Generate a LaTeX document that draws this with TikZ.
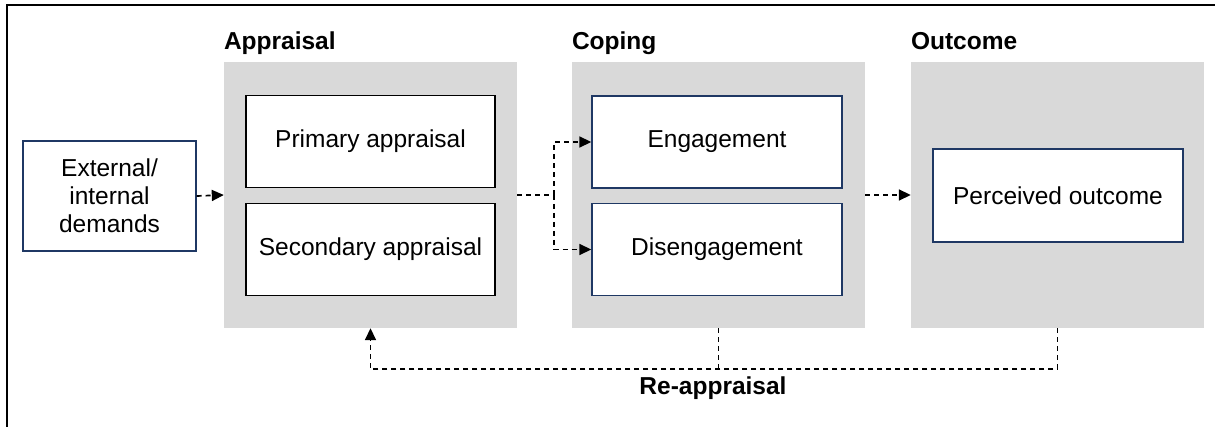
\documentclass[tikz,border=0pt]{standalone}
\usepackage{fontspec}
\setmainfont{Liberation Sans}
\usepackage{tikz}
\usetikzlibrary{arrows.meta,positioning}
\definecolor{panelgray}{HTML}{D9D9D9}
\definecolor{navy}{HTML}{1F3864}

\begin{document}
\begin{tikzpicture}[x=1pt, y=-1pt]
    \tikzstyle{panel} = [rectangle, fill=panelgray, minimum width=293pt, minimum height=266pt, inner sep=0pt]
    \tikzstyle{stage} = [rectangle, draw=black, fill=white, line width=1.4pt, minimum width=249pt, minimum height=92pt, inner sep=0pt, font=\fontsize{24.5}{28}\selectfont]
    \tikzstyle{stageblue} = [stage, draw=navy]
    \tikzstyle{title} = [anchor=base west, inner sep=0pt, font=\fontsize{24.5}{28}\selectfont\bfseries]
    \tikzstyle{link} = [line width=1.7pt, dash pattern=on 5pt off 4pt, -{Triangle[length=12pt, width=11pt]}]
    \useasboundingbox (0,0) rectangle (1215,427);
    \draw[line width=2pt] (7,427) -- (7,5) -- (1215,5);
    % the three grey stages with their titles
    \foreach \name/\x/\txt in {appr/370.5/Appraisal, cop/718.5/Coping, out/1057.5/Outcome} {
        \node[panel] (\name) at (\x, 195) {};
        \node[title] (\name-title) at ([yshift=12pt]\name.north west) {\txt};
    }
    \node[stageblue, minimum width=173pt, minimum height=110pt, align=center] (demands) at (109.5, 196) {External/\\internal\\demands};
    \node[stage] (primary) at (370.5, 141.5) {Primary appraisal};
    \node[stage] (secondary) at (370.5, 249.5) {Secondary appraisal};
    \node[stageblue, minimum width=250pt] (engage) at (717, 142) {Engagement};
    \node[stageblue, minimum width=250pt] (disengage) at (717, 249.5) {Disengagement};
    \node[stageblue, minimum width=250pt, minimum height=93pt] (perceived) at (1058, 195.5) {Perceived outcome};
    % forward flow
    \draw[link] (demands.east) -- (appr.west);
    \coordinate (split) at ([xshift=37pt]appr.east);
    \draw[link, -] (appr.east) -- (split);
    \draw[link] (split) |- (engage.west);
    \draw[link] (split) |- (disengage.west);
    \draw[link] (cop.east) -- (out.west);
    % feedback loop
    \coordinate (loop) at (0, 369);
    \draw[link, -] (cop.south) -- (cop.south |- loop);
    \draw[link] (out.south) -- (out.south |- loop) -| (appr.south);
    \node[font=\fontsize{24.5}{28}\selectfont\bfseries, inner sep=0pt] (reappraisal) at (713, 388) {Re-appraisal};
\end{tikzpicture}
\end{document}
